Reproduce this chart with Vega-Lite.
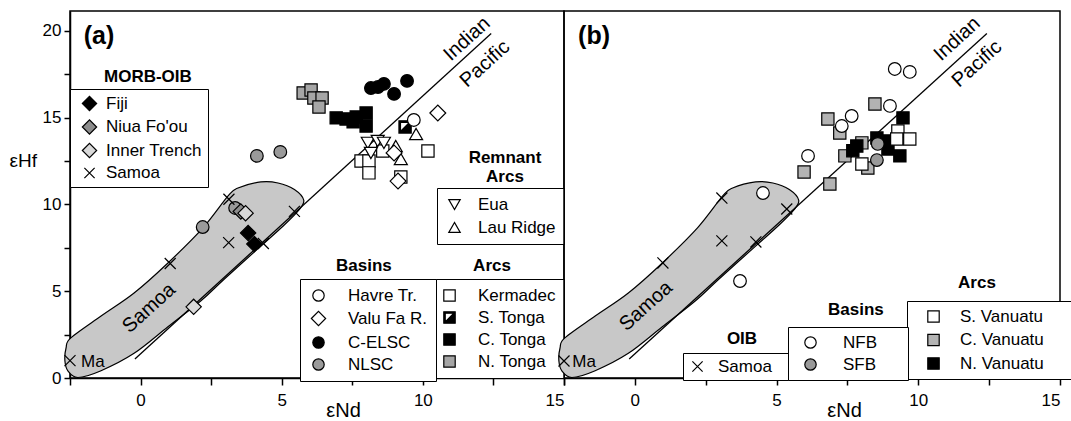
{
  "$schema": "https://vega.github.io/schema/vega-lite/v6.json",
  "background": "white",
  "padding": {"left": 8, "top": 10, "right": 6, "bottom": 0},
  "config": {
    "font": "Liberation Sans",
    "view": {"stroke": "black", "strokeWidth": 1.5},
    "axis": {"domainColor": "black", "domainWidth": 1.5, "tickColor": "black", "tickWidth": 1.5, "tickSize": 6, "labelColor": "black", "labelFont": "Liberation Sans", "labelFontSize": 17, "grid": false, "titleColor": "black", "titleFont": "Liberation Sans", "titleFontWeight": "normal"},
    "legend": {"labelFont": "Liberation Sans", "labelFontSize": 17, "labelColor": "black", "symbolStrokeColor": "black", "symbolStrokeWidth": 1.2, "symbolSize": 130, "strokeColor": "black", "fillColor": "white", "orient": "none", "cornerRadius": 0}
  },
  "datasets": {
    "field": [
      {"o": 1, "x": -2.64, "y": 1.73}, {"o": 2, "x": -2.68, "y": 0.98}, {"o": 3, "x": -2.57, "y": 0.40}, {"o": 4, "x": -2.22, "y": 0.03},
      {"o": 5, "x": -1.40, "y": 0.42}, {"o": 6, "x": -0.23, "y": 1.42}, {"o": 7, "x": 0.97, "y": 2.95}, {"o": 8, "x": 2.14, "y": 4.45},
      {"o": 9, "x": 2.95, "y": 5.68}, {"o": 10, "x": 4.26, "y": 7.6}, {"o": 11, "x": 5.08, "y": 8.8}, {"o": 12, "x": 5.62, "y": 9.7},
      {"o": 13, "x": 5.78, "y": 10.25}, {"o": 14, "x": 5.45, "y": 10.86}, {"o": 15, "x": 4.87, "y": 11.24}, {"o": 16, "x": 4.26, "y": 11.3},
      {"o": 17, "x": 3.45, "y": 10.95}, {"o": 18, "x": 3.10, "y": 10.49}, {"o": 19, "x": 2.21, "y": 8.65}, {"o": 20, "x": 0.97, "y": 6.63},
      {"o": 21, "x": -0.23, "y": 4.90}, {"o": 22, "x": -1.40, "y": 3.57}, {"o": 23, "x": -2.47, "y": 2.31}
    ],
    "ipline": [{"x": -0.2, "y": 1.1}, {"x": 12.42, "y": 19.85}],
    "pa": [
      {"grp": "MORB-OIB", "label": "Samoa", "x": -2.5, "y": 1.0},
      {"grp": "MORB-OIB", "label": "Samoa", "x": 1.05, "y": 6.6},
      {"grp": "MORB-OIB", "label": "Samoa", "x": 3.12, "y": 7.8},
      {"grp": "MORB-OIB", "label": "Samoa", "x": 4.35, "y": 7.75},
      {"grp": "MORB-OIB", "label": "Samoa", "x": 5.45, "y": 9.6},
      {"grp": "MORB-OIB", "label": "Samoa", "x": 3.13, "y": 10.3},
      {"grp": "MORB-OIB", "label": "Fiji", "x": 3.81, "y": 8.36},
      {"grp": "MORB-OIB", "label": "Fiji", "x": 4.03, "y": 7.72},
      {"grp": "MORB-OIB", "label": "Niua Fo'ou", "x": 3.55, "y": 9.6},
      {"grp": "MORB-OIB", "label": "Inner Trench", "x": 3.72, "y": 9.5},
      {"grp": "MORB-OIB", "label": "Inner Trench", "x": 1.88, "y": 4.1},
      {"grp": "Basins", "label": "NLSC", "x": 2.2, "y": 8.7},
      {"grp": "Basins", "label": "NLSC", "x": 4.12, "y": 12.8},
      {"grp": "Basins", "label": "NLSC", "x": 4.95, "y": 13.03},
      {"grp": "Basins", "label": "NLSC", "x": 3.35, "y": 9.8},
      {"grp": "Basins", "label": "Havre Tr.", "x": 9.68, "y": 14.87},
      {"grp": "Basins", "label": "Valu Fa R.", "x": 10.53, "y": 15.27},
      {"grp": "Basins", "label": "Valu Fa R.", "x": 8.98, "y": 12.97},
      {"grp": "Basins", "label": "Valu Fa R.", "x": 9.12, "y": 11.35},
      {"grp": "Basins", "label": "C-ELSC", "x": 8.16, "y": 16.71},
      {"grp": "Basins", "label": "C-ELSC", "x": 8.41, "y": 16.77},
      {"grp": "Basins", "label": "C-ELSC", "x": 8.62, "y": 16.95},
      {"grp": "Basins", "label": "C-ELSC", "x": 8.98, "y": 16.37},
      {"grp": "Basins", "label": "C-ELSC", "x": 9.44, "y": 17.12},
      {"grp": "Arcs", "label": "Kermadec", "x": 7.81, "y": 12.51},
      {"grp": "Arcs", "label": "Kermadec", "x": 8.09, "y": 12.51},
      {"grp": "Arcs", "label": "Kermadec", "x": 8.09, "y": 11.82},
      {"grp": "Arcs", "label": "Kermadec", "x": 8.58, "y": 13.08},
      {"grp": "Arcs", "label": "Kermadec", "x": 10.18, "y": 13.08},
      {"grp": "Arcs", "label": "Kermadec", "x": 9.22, "y": 11.58},
      {"grp": "Arcs", "label": "S. Tonga", "x": 9.37, "y": 14.47},
      {"grp": "Arcs", "label": "C. Tonga", "x": 6.93, "y": 14.99},
      {"grp": "Arcs", "label": "C. Tonga", "x": 7.28, "y": 14.93},
      {"grp": "Arcs", "label": "C. Tonga", "x": 7.64, "y": 15.04},
      {"grp": "Arcs", "label": "C. Tonga", "x": 7.99, "y": 15.27},
      {"grp": "Arcs", "label": "C. Tonga", "x": 7.99, "y": 14.52},
      {"grp": "Arcs", "label": "C. Tonga", "x": 7.53, "y": 14.76},
      {"grp": "Arcs", "label": "N. Tonga", "x": 5.76, "y": 16.43},
      {"grp": "Arcs", "label": "N. Tonga", "x": 6.04, "y": 16.6},
      {"grp": "Arcs", "label": "N. Tonga", "x": 6.14, "y": 16.14},
      {"grp": "Arcs", "label": "N. Tonga", "x": 6.43, "y": 16.14},
      {"grp": "Arcs", "label": "N. Tonga", "x": 6.32, "y": 15.62},
      {"grp": "Remnant", "label": "Eua", "x": 8.05, "y": 13.55},
      {"grp": "Remnant", "label": "Eua", "x": 8.4, "y": 13.66},
      {"grp": "Remnant", "label": "Eua", "x": 8.62, "y": 13.55},
      {"grp": "Remnant", "label": "Eua", "x": 8.16, "y": 12.97},
      {"grp": "Remnant", "label": "Lau Ridge", "x": 9.76, "y": 14.06},
      {"grp": "Remnant", "label": "Lau Ridge", "x": 9.22, "y": 12.62},
      {"grp": "Remnant", "label": "Lau Ridge", "x": 9.04, "y": 13.37}
    ],
    "pb": [
      {"grp": "OIB", "label": "Samoa", "x": -2.5, "y": 0.98},
      {"grp": "OIB", "label": "Samoa", "x": 0.99, "y": 6.63},
      {"grp": "OIB", "label": "Samoa", "x": 3.07, "y": 10.37},
      {"grp": "OIB", "label": "Samoa", "x": 3.07, "y": 7.9},
      {"grp": "OIB", "label": "Samoa", "x": 4.27, "y": 7.84},
      {"grp": "OIB", "label": "Samoa", "x": 5.36, "y": 9.74},
      {"grp": "Arcs", "label": "C. Vanuatu", "x": 6.81, "y": 14.93},
      {"grp": "Arcs", "label": "C. Vanuatu", "x": 7.23, "y": 14.12},
      {"grp": "Arcs", "label": "C. Vanuatu", "x": 8.47, "y": 15.79},
      {"grp": "Arcs", "label": "C. Vanuatu", "x": 7.41, "y": 12.8},
      {"grp": "Arcs", "label": "C. Vanuatu", "x": 8.01, "y": 13.55},
      {"grp": "Arcs", "label": "C. Vanuatu", "x": 8.22, "y": 12.1},
      {"grp": "Arcs", "label": "C. Vanuatu", "x": 6.88, "y": 11.18},
      {"grp": "Arcs", "label": "C. Vanuatu", "x": 5.97, "y": 11.87},
      {"grp": "Arcs", "label": "N. Vanuatu", "x": 9.46, "y": 14.99},
      {"grp": "Arcs", "label": "N. Vanuatu", "x": 7.83, "y": 13.37},
      {"grp": "Arcs", "label": "N. Vanuatu", "x": 7.69, "y": 13.1},
      {"grp": "Arcs", "label": "N. Vanuatu", "x": 8.54, "y": 13.83},
      {"grp": "Arcs", "label": "N. Vanuatu", "x": 8.89, "y": 13.66},
      {"grp": "Arcs", "label": "N. Vanuatu", "x": 8.93, "y": 13.2},
      {"grp": "Arcs", "label": "N. Vanuatu", "x": 9.35, "y": 12.8},
      {"grp": "Arcs", "label": "S. Vanuatu", "x": 9.28, "y": 14.24},
      {"grp": "Arcs", "label": "S. Vanuatu", "x": 9.24, "y": 13.77},
      {"grp": "Arcs", "label": "S. Vanuatu", "x": 9.7, "y": 13.77},
      {"grp": "Arcs", "label": "S. Vanuatu", "x": 8.01, "y": 12.33},
      {"grp": "Basins", "label": "NFB", "x": 4.52, "y": 10.66},
      {"grp": "Basins", "label": "NFB", "x": 3.71, "y": 5.59},
      {"grp": "Basins", "label": "NFB", "x": 6.11, "y": 12.8},
      {"grp": "Basins", "label": "NFB", "x": 9.17, "y": 17.81},
      {"grp": "Basins", "label": "NFB", "x": 9.7, "y": 17.64},
      {"grp": "Basins", "label": "NFB", "x": 7.65, "y": 15.1},
      {"grp": "Basins", "label": "NFB", "x": 7.3, "y": 14.52},
      {"grp": "Basins", "label": "NFB", "x": 9.0, "y": 15.68},
      {"grp": "Basins", "label": "SFB", "x": 8.57, "y": 13.49},
      {"grp": "Basins", "label": "SFB", "x": 8.54, "y": 12.56}
    ]
  },
  "hconcat": [
    {
      "width": 494,
      "height": 367,
      "encoding": {
        "x": {"field": "x", "type": "quantitative", "scale": {"domain": [-2.5, 15], "nice": false, "zero": false},
          "axis": {"values": [-2.5, 0, 2.5, 5, 7.5, 10, 12.5, 15], "labelExpr": "datum.value % 5 == 0 ? datum.label : ''", "tickSize": 7, "labelPadding": 7, "title": "εNd", "titleFontSize": 20, "titleX": 273, "titleY": 38, "titleAlign": "center", "titleBaseline": "alphabetic"}},
        "y": {"field": "y", "type": "quantitative", "scale": {"domain": [0, 21.15], "nice": false, "zero": false},
          "axis": {"values": [0, 2.5, 5, 7.5, 10, 12.5, 15, 17.5, 20], "labelExpr": "datum.value % 5 == 0 ? datum.label : ''", "labelPadding": 3, "title": "εHf", "titleFontSize": 19, "titleAngle": 0, "titleX": -61, "titleY": 155, "titleAlign": "left", "titleBaseline": "alphabetic"}}
      },
      "layer": [
        {"data": {"name": "field"}, "mark": {"type": "line", "interpolate": "cardinal-closed", "fill": "#c8c8c8", "stroke": "black", "strokeWidth": 1.2}, "encoding": {"order": {"field": "o", "type": "quantitative"}}},
        {"data": {"name": "ipline"}, "mark": {"type": "line", "stroke": "black", "strokeWidth": 1.3}, "encoding": {}},
        {
          "data": {"name": "pa"}, "transform": [{"filter": "datum.grp == 'Arcs'"}],
          "mark": {"type": "point", "filled": true, "size": 150, "strokeWidth": 1.2, "opacity": 1},
          "encoding": {
            "shape": {"field": "label", "type": "nominal", "scale": {"domain": ["Kermadec", "S. Tonga", "C. Tonga", "N. Tonga"], "range": ["square", "M-1,-1H1V1H-1Z M-0.75,-0.75V0.75H0.75V-0.75Z M0.75,-0.75L0.75,0.75L-0.75,0.75Z", "square", "square"]},
              "legend": {"title": null, "legendX": 364, "legendY": 268, "padding": 8, "rowPadding": 4, "symbolOffset": -1, "labelOffset": 20}},
            "fill": {"field": "label", "type": "nominal", "scale": {"domain": ["Kermadec", "S. Tonga", "C. Tonga", "N. Tonga"], "range": ["white", "black", "black", "#a6a6a6"]},
              "legend": {"title": null, "legendX": 364, "legendY": 268, "padding": 8, "rowPadding": 4, "symbolOffset": -1, "labelOffset": 20}},
            "stroke": {"field": "label", "type": "nominal", "scale": {"domain": ["Kermadec", "S. Tonga", "C. Tonga", "N. Tonga"], "range": ["black", "black", "black", "black"]},
              "legend": {"title": null, "legendX": 364, "legendY": 268, "padding": 8, "rowPadding": 4, "symbolOffset": -1, "labelOffset": 20}}
          }
        },
        {
          "data": {"name": "pa"}, "transform": [{"filter": "datum.grp == 'Remnant'"}],
          "mark": {"type": "point", "filled": true, "size": 170, "strokeWidth": 1.2, "opacity": 1},
          "encoding": {
            "shape": {"field": "label", "type": "nominal", "scale": {"domain": ["Eua", "Lau Ridge"], "range": ["triangle-down", "triangle-up"]},
              "legend": {"title": null, "legendX": 367, "legendY": 177, "padding": 8, "rowPadding": 5, "symbolOffset": 1, "labelOffset": 15}},
            "fill": {"field": "label", "type": "nominal", "scale": {"domain": ["Eua", "Lau Ridge"], "range": ["white", "white"]},
              "legend": {"title": null, "legendX": 367, "legendY": 177, "padding": 8, "rowPadding": 5, "symbolOffset": 1, "labelOffset": 15}},
            "stroke": {"field": "label", "type": "nominal", "scale": {"domain": ["Eua", "Lau Ridge"], "range": ["black", "black"]},
              "legend": {"title": null, "legendX": 367, "legendY": 177, "padding": 8, "rowPadding": 5, "symbolOffset": 1, "labelOffset": 15}}
          }
        },
        {
          "data": {"name": "pa"}, "transform": [{"filter": "datum.grp == 'Basins'"}],
          "mark": {"type": "point", "filled": true, "size": 160, "strokeWidth": 1.2, "opacity": 1},
          "encoding": {
            "shape": {"field": "label", "type": "nominal", "scale": {"domain": ["Havre Tr.", "Valu Fa R.", "C-ELSC", "NLSC"], "range": ["circle", "M-1.25,0L0,-1.25L1.25,0L0,1.25Z", "circle", "circle"]},
              "legend": {"title": null, "legendX": 230, "legendY": 268, "padding": 8, "rowPadding": 4, "symbolOffset": 2, "labelOffset": 21}},
            "fill": {"field": "label", "type": "nominal", "scale": {"domain": ["Havre Tr.", "Valu Fa R.", "C-ELSC", "NLSC"], "range": ["white", "white", "black", "#9a9a9a"]},
              "legend": {"title": null, "legendX": 230, "legendY": 268, "padding": 8, "rowPadding": 4, "symbolOffset": 2, "labelOffset": 21}},
            "stroke": {"field": "label", "type": "nominal", "scale": {"domain": ["Havre Tr.", "Valu Fa R.", "C-ELSC", "NLSC"], "range": ["black", "black", "black", "black"]},
              "legend": {"title": null, "legendX": 230, "legendY": 268, "padding": 8, "rowPadding": 4, "symbolOffset": 2, "labelOffset": 21}}
          }
        },
        {
          "data": {"name": "pa"}, "transform": [{"filter": "datum.grp == 'MORB-OIB'"}],
          "mark": {"type": "point", "filled": true, "size": 150, "strokeWidth": 1.2, "opacity": 1},
          "encoding": {
            "shape": {"field": "label", "type": "nominal", "scale": {"domain": ["Fiji", "Niua Fo'ou", "Inner Trench", "Samoa"], "range": ["M-1.25,0L0,-1.25L1.25,0L0,1.25Z", "M-1.25,0L0,-1.25L1.25,0L0,1.25Z", "M-1.25,0L0,-1.25L1.25,0L0,1.25Z", "M-0.9,-0.9L0.9,0.9M-0.9,0.9L0.9,-0.9"]},
              "legend": {"title": null, "legendX": 0, "legendY": 78, "padding": 6, "rowPadding": 2.5, "symbolOffset": 5, "labelOffset": 8}},
            "fill": {"field": "label", "type": "nominal", "scale": {"domain": ["Fiji", "Niua Fo'ou", "Inner Trench", "Samoa"], "range": ["black", "#8c8c8c", "#d9d9d9", "transparent"]},
              "legend": {"title": null, "legendX": 0, "legendY": 78, "padding": 6, "rowPadding": 2.5, "symbolOffset": 5, "labelOffset": 8}},
            "stroke": {"field": "label", "type": "nominal", "scale": {"domain": ["Fiji", "Niua Fo'ou", "Inner Trench", "Samoa"], "range": ["black", "black", "black", "black"]},
              "legend": {"title": null, "legendX": 0, "legendY": 78, "padding": 6, "rowPadding": 2.5, "symbolOffset": 5, "labelOffset": 8}}
          }
        },
        {"data": {"values": [{"x": -1.47, "y": 19.71, "t": "(a)"}]}, "mark": {"type": "text", "font": "Liberation Sans", "fontSize": 25, "fontWeight": "bold", "align": "center", "baseline": "middle", "color": "black"}, "encoding": {"text": {"field": "t"}}},
        {"data": {"values": [
            {"x": 0.26, "y": 17.35, "t": "MORB-OIB"},
            {"x": 12.91, "y": 12.7, "t": "Remnant"},
            {"x": 12.91, "y": 11.6, "t": "Arcs"},
            {"x": 7.91, "y": 6.46, "t": "Basins"},
            {"x": 12.45, "y": 6.46, "t": "Arcs"}
          ]}, "mark": {"type": "text", "font": "Liberation Sans", "fontSize": 17, "fontWeight": "bold", "align": "center", "baseline": "middle", "color": "black"}, "encoding": {"text": {"field": "t"}}},
        {"data": {"values": [{"x": -1.69, "y": 0.92, "t": "Ma"}]}, "mark": {"type": "text", "font": "Liberation Sans", "fontSize": 17, "align": "center", "baseline": "middle", "color": "black"}, "encoding": {"text": {"field": "t"}}},
        {"data": {"values": [
            {"x": 11.56, "y": 19.54, "t": "Indian"},
            {"x": 12.2, "y": 18.1, "t": "Pacific"},
            {"x": 0.3, "y": 4.03, "t": "Samoa"}
          ]}, "mark": {"type": "text", "font": "Liberation Sans", "fontSize": 20, "angle": -42, "align": "center", "baseline": "middle", "color": "black"}, "encoding": {"text": {"field": "t"}}}
      ],
      "resolve": {"scale": {"shape": "independent", "fill": "independent", "stroke": "independent"}}
    },
    {
      "width": 496,
      "height": 367,
      "encoding": {
        "x": {"field": "x", "type": "quantitative", "scale": {"domain": [-2.5, 15], "nice": false, "zero": false},
          "axis": {"values": [-2.5, 0, 2.5, 5, 7.5, 10, 12.5, 15], "labelExpr": "datum.value % 5 == 0 ? datum.label : ''", "tickSize": 7, "labelPadding": 7, "title": "εNd", "titleFontSize": 20, "titleX": 280, "titleY": 38, "titleAlign": "center", "titleBaseline": "alphabetic"}},
        "y": {"field": "y", "type": "quantitative", "scale": {"domain": [0, 21.15], "nice": false, "zero": false}, "axis": null}
      },
      "layer": [
        {"data": {"name": "field"}, "mark": {"type": "line", "interpolate": "cardinal-closed", "fill": "#c8c8c8", "stroke": "black", "strokeWidth": 1.2}, "encoding": {"order": {"field": "o", "type": "quantitative"}}},
        {"data": {"name": "ipline"}, "mark": {"type": "line", "stroke": "black", "strokeWidth": 1.3}, "encoding": {}},
        {
          "data": {"name": "pb"}, "transform": [{"filter": "datum.grp == 'OIB'"}],
          "mark": {"type": "point", "filled": true, "size": 150, "strokeWidth": 1.2, "opacity": 1},
          "encoding": {
            "shape": {"field": "label", "type": "nominal", "scale": {"domain": ["Samoa"], "range": ["M-0.9,-0.9L0.9,0.9M-0.9,0.9L0.9,-0.9"]},
              "legend": {"title": null, "legendX": 119, "legendY": 342, "padding": 5, "rowPadding": 4, "symbolOffset": 1, "labelOffset": 12, "labelExpr": "datum.label + '\u00a0\u00a0\u00a0\u200b'"}},
            "fill": {"field": "label", "type": "nominal", "scale": {"domain": ["Samoa"], "range": ["transparent"]},
              "legend": {"title": null, "legendX": 119, "legendY": 342, "padding": 5, "rowPadding": 4, "symbolOffset": 1, "labelOffset": 12, "labelExpr": "datum.label + '\u00a0\u00a0\u00a0\u200b'"}},
            "stroke": {"field": "label", "type": "nominal", "scale": {"domain": ["Samoa"], "range": ["black"]},
              "legend": {"title": null, "legendX": 119, "legendY": 342, "padding": 5, "rowPadding": 4, "symbolOffset": 1, "labelOffset": 12, "labelExpr": "datum.label + '\u00a0\u00a0\u00a0\u200b'"}}
          }
        },
        {
          "data": {"name": "pb"}, "transform": [{"filter": "datum.grp == 'Arcs'"}],
          "mark": {"type": "point", "filled": true, "size": 150, "strokeWidth": 1.2, "opacity": 1},
          "encoding": {
            "shape": {"field": "label", "type": "nominal", "scale": {"domain": ["S. Vanuatu", "C. Vanuatu", "N. Vanuatu"], "range": ["square", "square", "square"]},
              "legend": {"title": null, "legendX": 343, "legendY": 290, "padding": 7, "rowPadding": 5.5, "symbolOffset": 11, "labelOffset": 18, "labelExpr": "datum.label + '\u00a0\u00a0\u00a0\u00a0\u00a0\u200b'"}},
            "fill": {"field": "label", "type": "nominal", "scale": {"domain": ["S. Vanuatu", "C. Vanuatu", "N. Vanuatu"], "range": ["white", "#b3b3b3", "black"]},
              "legend": {"title": null, "legendX": 343, "legendY": 290, "padding": 7, "rowPadding": 5.5, "symbolOffset": 11, "labelOffset": 18, "labelExpr": "datum.label + '\u00a0\u00a0\u00a0\u00a0\u00a0\u200b'"}},
            "stroke": {"field": "label", "type": "nominal", "scale": {"domain": ["S. Vanuatu", "C. Vanuatu", "N. Vanuatu"], "range": ["black", "black", "black"]},
              "legend": {"title": null, "legendX": 343, "legendY": 290, "padding": 7, "rowPadding": 5.5, "symbolOffset": 11, "labelOffset": 18, "labelExpr": "datum.label + '\u00a0\u00a0\u00a0\u00a0\u00a0\u200b'"}}
          }
        },
        {
          "data": {"name": "pb"}, "transform": [{"filter": "datum.grp == 'Basins'"}],
          "mark": {"type": "point", "filled": true, "size": 160, "strokeWidth": 1.2, "opacity": 1},
          "encoding": {
            "shape": {"field": "label", "type": "nominal", "scale": {"domain": ["NFB", "SFB"], "range": ["circle", "circle"]},
              "legend": {"title": null, "legendX": 224, "legendY": 316, "padding": 7, "rowPadding": 4, "symbolOffset": 7, "labelOffset": 24, "labelExpr": "datum.label + '\u00a0\u00a0\u00a0\u00a0\u00a0\u200b'"}},
            "fill": {"field": "label", "type": "nominal", "scale": {"domain": ["NFB", "SFB"], "range": ["white", "#999999"]},
              "legend": {"title": null, "legendX": 224, "legendY": 316, "padding": 7, "rowPadding": 4, "symbolOffset": 7, "labelOffset": 24, "labelExpr": "datum.label + '\u00a0\u00a0\u00a0\u00a0\u00a0\u200b'"}},
            "stroke": {"field": "label", "type": "nominal", "scale": {"domain": ["NFB", "SFB"], "range": ["black", "black"]},
              "legend": {"title": null, "legendX": 224, "legendY": 316, "padding": 7, "rowPadding": 4, "symbolOffset": 7, "labelOffset": 24, "labelExpr": "datum.label + '\u00a0\u00a0\u00a0\u00a0\u00a0\u200b'"}}
          }
        },
        {"data": {"values": [{"x": -1.44, "y": 19.71, "t": "(b)"}]}, "mark": {"type": "text", "font": "Liberation Sans", "fontSize": 25, "fontWeight": "bold", "align": "center", "baseline": "middle", "color": "black"}, "encoding": {"text": {"field": "t"}}},
        {"data": {"values": [
            {"x": 3.78, "y": 2.25, "t": "OIB"},
            {"x": 7.8, "y": 3.92, "t": "Basins"},
            {"x": 12.07, "y": 5.48, "t": "Arcs"}
          ]}, "mark": {"type": "text", "font": "Liberation Sans", "fontSize": 17, "fontWeight": "bold", "align": "center", "baseline": "middle", "color": "black"}, "encoding": {"text": {"field": "t"}}},
        {"data": {"values": [{"x": -1.79, "y": 0.92, "t": "Ma"}]}, "mark": {"type": "text", "font": "Liberation Sans", "fontSize": 17, "align": "center", "baseline": "middle", "color": "black"}, "encoding": {"text": {"field": "t"}}},
        {"data": {"values": [
            {"x": 11.37, "y": 19.54, "t": "Indian"},
            {"x": 12.07, "y": 18.1, "t": "Pacific"},
            {"x": 0.39, "y": 4.15, "t": "Samoa"}
          ]}, "mark": {"type": "text", "font": "Liberation Sans", "fontSize": 20, "angle": -42, "align": "center", "baseline": "middle", "color": "black"}, "encoding": {"text": {"field": "t"}}}
      ],
      "resolve": {"scale": {"shape": "independent", "fill": "independent", "stroke": "independent"}}
    }
  ],
  "spacing": 0,
  "bounds": "flush"
}
